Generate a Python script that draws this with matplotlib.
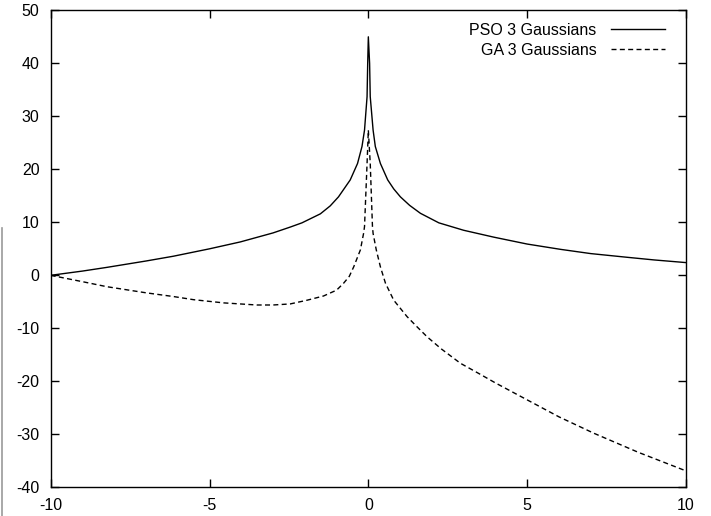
import matplotlib
matplotlib.use("Agg")
import matplotlib.pyplot as plt
from matplotlib.lines import Line2D

plt.rcParams['font.family'] = ['Liberation Sans', 'DejaVu Sans']

# PSO 3 Gaussians (solid)
pso_x = [-10.0, -9.0, -8.23, -7.0, -6.14, -5.0, -4.03, -3.0, -2.46, -2.09, -1.51, -1.2, -0.94, -0.57, -0.34,
         -0.20, -0.12, -0.04, -0.02, 0.0,
         0.04, 0.06, 0.15, 0.22, 0.38, 0.61, 0.8, 1.01, 1.3, 1.64, 2.22, 3.0, 3.95, 5.0, 6.05, 7.0, 8.15, 9.0, 10.0]
pso_y = [0.0, 0.8, 1.5, 2.7, 3.6, 5.0, 6.3, 8.0, 9.1, 9.9, 11.6, 13.1, 14.8, 18.0, 21.1,
         24.3, 27.4, 33.7, 40.0, 45.0,
         40.0, 33.7, 27.4, 24.3, 21.1, 18.0, 16.3, 14.8, 13.2, 11.7, 9.9, 8.5, 7.2, 5.9, 4.9, 4.1, 3.4, 2.9, 2.4]

# GA 3 Gaussians (dashed)
ga_x = [-10.0, -9.0, -8.23, -7.0, -6.14, -5.5, -4.56, -3.51, -3.0, -2.46, -1.93, -1.41, -1.0, -0.78, -0.6,
        -0.46, -0.25, -0.15, -0.12, -0.04, 0.0,
        0.06, 0.13, 0.15, 0.25, 0.38, 0.54, 0.80, 1.22, 1.53, 1.85, 2.3, 2.9, 3.5, 4.0, 5.0, 6.0, 7.1, 8.5, 10.0]
ga_y = [0.0, -1.2, -2.15, -3.3, -4.0, -4.6, -5.2, -5.6, -5.6, -5.4, -4.7, -3.9, -2.8, -1.5, -0.2,
        1.6, 4.8, 7.9, 9.2, 21.1, 27.4,
        21.1, 9.2, 7.9, 4.8, 1.6, -1.5, -4.7, -7.8, -9.7, -11.6, -13.9, -16.6, -18.6, -20.3, -23.5, -26.7, -29.8, -33.4, -36.9]

xticks = [-10, -5, 0, 5, 10]
yticks = [-40, -30, -20, -10, 0, 10, 20, 30, 40, 50]

fig = plt.figure(figsize=(7.11, 5.16), dpi=100)
ax = fig.add_axes([0.0713, 0.0556, 0.8935, 0.9244])

ax.plot(pso_x, pso_y, color='black', lw=1.0, label='PSO 3 Gaussians')
ax.plot(ga_x, ga_y, color='black', lw=1.0, dashes=(3.6, 2.4), label='GA 3 Gaussians')

ax.set_xlim(-10, 10)
ax.set_ylim(-40, 50)
ax.set_xticks(xticks)
ax.set_yticks(yticks)
ax.set_xticklabels([str(v) for v in xticks])
ax.set_yticklabels([str(v) for v in yticks])
ax.tick_params(direction='in', length=6, width=1.0, top=True, right=True,
               labelsize=11.5, pad=8, colors='black')
for s in ax.spines.values():
    s.set_linewidth(1.0)
    s.set_color('black')

leg = ax.legend(loc='upper right', bbox_to_anchor=(0.967, 0.974), frameon=False,
                markerfirst=False, fontsize=11.5,
                handlelength=3.4, handletextpad=0.9, labelspacing=0.3,
                borderaxespad=0.0, borderpad=0.0)
for t in leg.get_texts():
    t.set_ha('right')

fig.add_artist(Line2D([0.0024, 0.0024], [0.0, 0.558], transform=fig.transFigure,
                      color='#999999', lw=1.2))

fig.savefig('out.png', dpi=100)
